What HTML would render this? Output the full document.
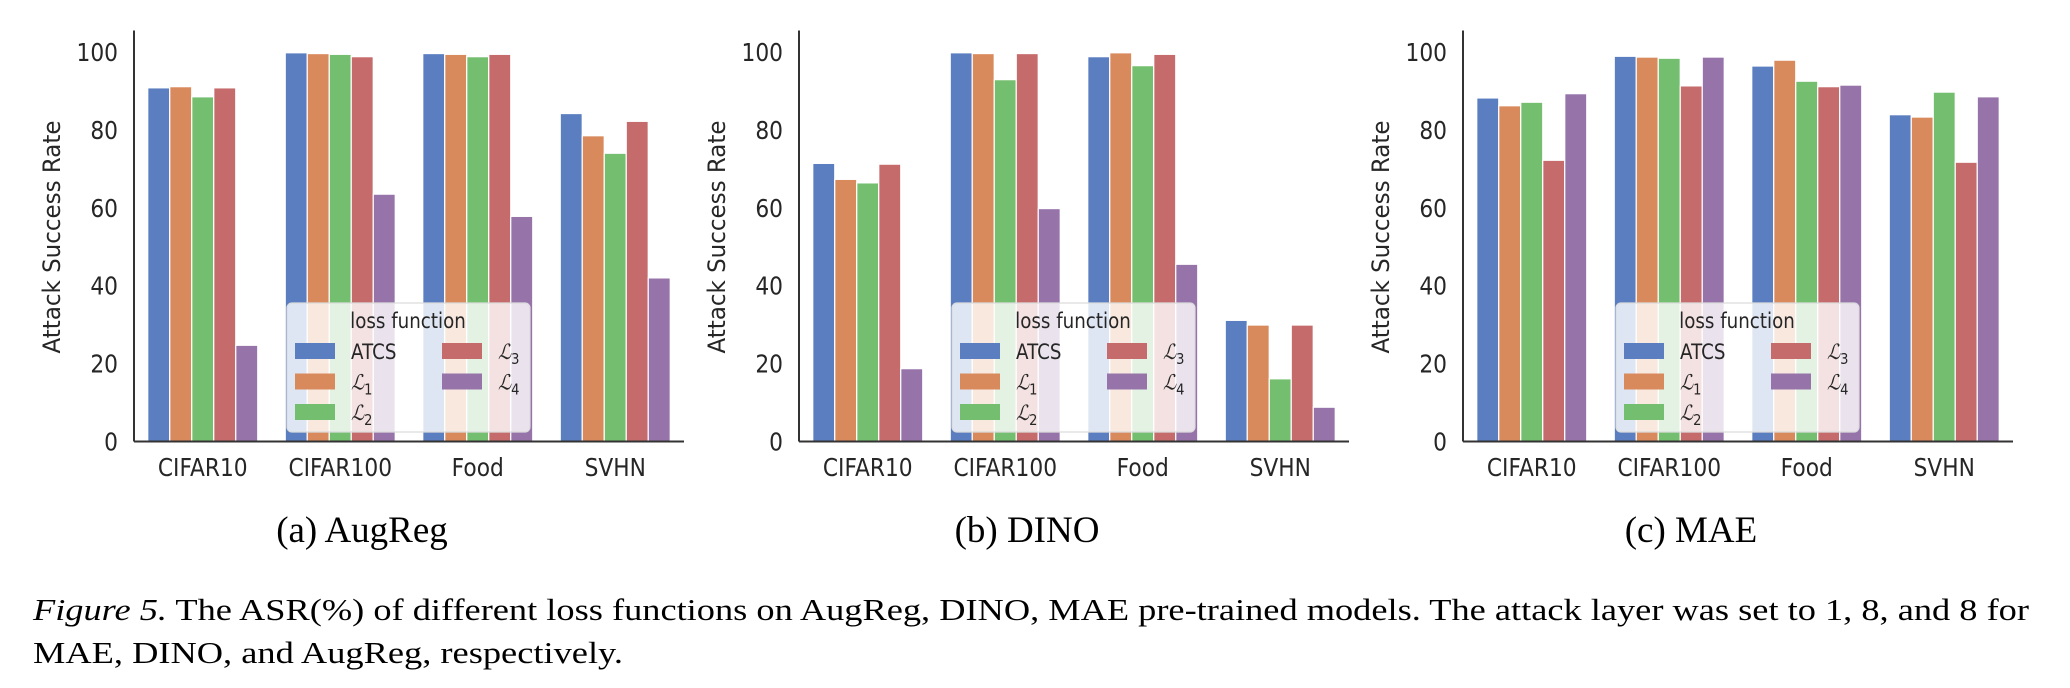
<!DOCTYPE html>
<html><head><meta charset="utf-8"><style>
body{margin:0;background:#fff;}
svg{display:block;}
</style></head><body>
<svg id="fig" width="2070" height="688" xmlns="http://www.w3.org/2000/svg"></svg>
<script>
const categories = ["CIFAR10","CIFAR100","Food","SVHN"];
const seriesNames = ["ATCS","L1","L2","L3","L4"];
const panelTitles = ["(a) AugReg","(b) DINO","(c) MAE"];
const augregValues = [[90.8,99.8,99.6,84.2],[91.1,99.6,99.4,78.5],[88.5,99.4,98.8,74.0],[90.8,98.8,99.4,82.2],[24.7,63.5,57.8,42.0]];
const dinoValues = [[71.4,99.8,98.8,31.1],[67.3,99.6,99.8,29.9],[66.4,92.9,96.5,16.1],[71.2,99.6,99.4,29.9],[18.7,59.8,45.5,8.8]];
const maeValues = [[88.2,98.9,96.4,83.9],[86.2,98.7,97.9,83.3],[87.1,98.4,92.5,89.7],[72.2,91.3,91.1,71.7],[89.3,98.7,91.5,88.5]];
const yTicks = [0,20,40,60,80,100];

const NS="http://www.w3.org/2000/svg";
const svg=document.getElementById('fig');
const colors=["#5a7ec0","#d98a5d","#74bf6f","#c66b6b","#9674aa"];
function mk(tag,attrs,parent){const e=document.createElementNS(NS,tag);for(const k in attrs)e.setAttribute(k,attrs[k]);(parent||svg).appendChild(e);return e;}
const axisX=[134,799,1463];
const W=550, Y0=441.5, PU=3.895;
const SX=0.87;
const allVals=[augregValues,dinoValues,maeValues];
const font='"DejaVu Sans", sans-serif';
function yS(v){return Y0-v*PU;}
function stxt(x,y,size,anchor,parent,str){
  const t=mk('text',{x:0,y:0,transform:`translate(${x},${y}) scale(${SX},1)`,'text-anchor':anchor,'font-family':font,'font-size':size,fill:'#262626'},parent);
  t.textContent=str;return t;
}
allVals.forEach((vals,p)=>{
  const ax=axisX[p];
  const g=mk('g',{});
  
  
  const gw=W/categories.length, bw=gw*0.8/seriesNames.length;
  vals.forEach((ser,s)=>{
    ser.forEach((v,c)=>{
      const x=ax+gw*c+gw*0.1+bw*s;
      const r=mk('rect',{x:x,y:yS(v),width:bw,height:Y0-yS(v),fill:colors[s],stroke:'#fff','stroke-width':1.2},g);
      
      
    });
  });
  const al=mk('line',{x1:ax,y1:30.5,x2:ax,y2:Y0,stroke:'#333','stroke-width':2},g);
  
  
  const bl=mk('line',{x1:ax,y1:Y0,x2:ax+W,y2:Y0,stroke:'#333','stroke-width':2},g);
  
  
  yTicks.forEach(t=>{
    const tx=stxt(ax-16,yS(t)+9,25,'end',g,t);
    
    
  });
  categories.forEach((c,i)=>{
    const tx=stxt(ax+gw*(i+0.5),476,25,'middle',g,c);
    
    
  });
  const yl=mk('text',{x:0,y:0,transform:`translate(${ax-74},237) rotate(-90)`,'text-anchor':'middle','font-family':font,'font-size':24,fill:'#262626',textLength:233,lengthAdjust:'spacingAndGlyphs'},g);
  yl.textContent='Attack Success Rate';
  
  
  const lx=ax+153, ly=303;
  const lg=mk('g',{},g);
  
  
  mk('rect',{x:lx,y:ly,width:243,height:129,rx:5,fill:'#fff','fill-opacity':0.8,stroke:'#dcdcdc','stroke-width':1.2},lg);
  stxt(lx+121,ly+25,21,'middle',lg,'loss function');
  const labs=[['ATCS',''],['ℒ','1'],['ℒ','2'],['ℒ','3'],['ℒ','4']];
  labs.forEach((l,i)=>{
    const col=i<3?0:1,row=i<3?i:i-3;
    const px=lx+8+col*147, py=ly+40+row*30.5;
    const pr=mk('rect',{x:px,y:py,width:40,height:16,fill:colors[i]},lg);
    
    
    const t=mk('text',{x:0,y:0,transform:`translate(${px+56},${py+16}) scale(${SX},1)`,'font-family':i==0?font:'"DejaVu Serif", serif','font-size':21,fill:'#262626','font-style':i==0?'normal':'italic'},lg);
    t.textContent=l[0];
    if(l[1]){const s=mk('tspan',{dy:5,'font-size':15,'font-style':'normal','font-family':font},t);s.textContent=l[1];}
  });
  const ct=mk('text',{x:ax+228,y:542,'text-anchor':'middle','font-family':'"Liberation Serif", serif','font-size':37,fill:'#000'},g);
  ct.textContent=panelTitles[p];
  
  
});
const c1=mk('text',{x:33,y:620,'font-family':'"Liberation Serif", serif','font-size':31,fill:'#000',textLength:1996,lengthAdjust:'spacingAndGlyphs'});
c1.innerHTML='<tspan font-style="italic">Figure 5.</tspan> The ASR(%) of different loss functions on AugReg, DINO, MAE pre-trained models. The attack layer was set to 1, 8, and 8 for';


const c2=mk('text',{x:33,y:663,'font-family':'"Liberation Serif", serif','font-size':31,fill:'#000',textLength:590,lengthAdjust:'spacingAndGlyphs'});
c2.textContent='MAE, DINO, and AugReg, respectively.';


</script>
</body></html>
